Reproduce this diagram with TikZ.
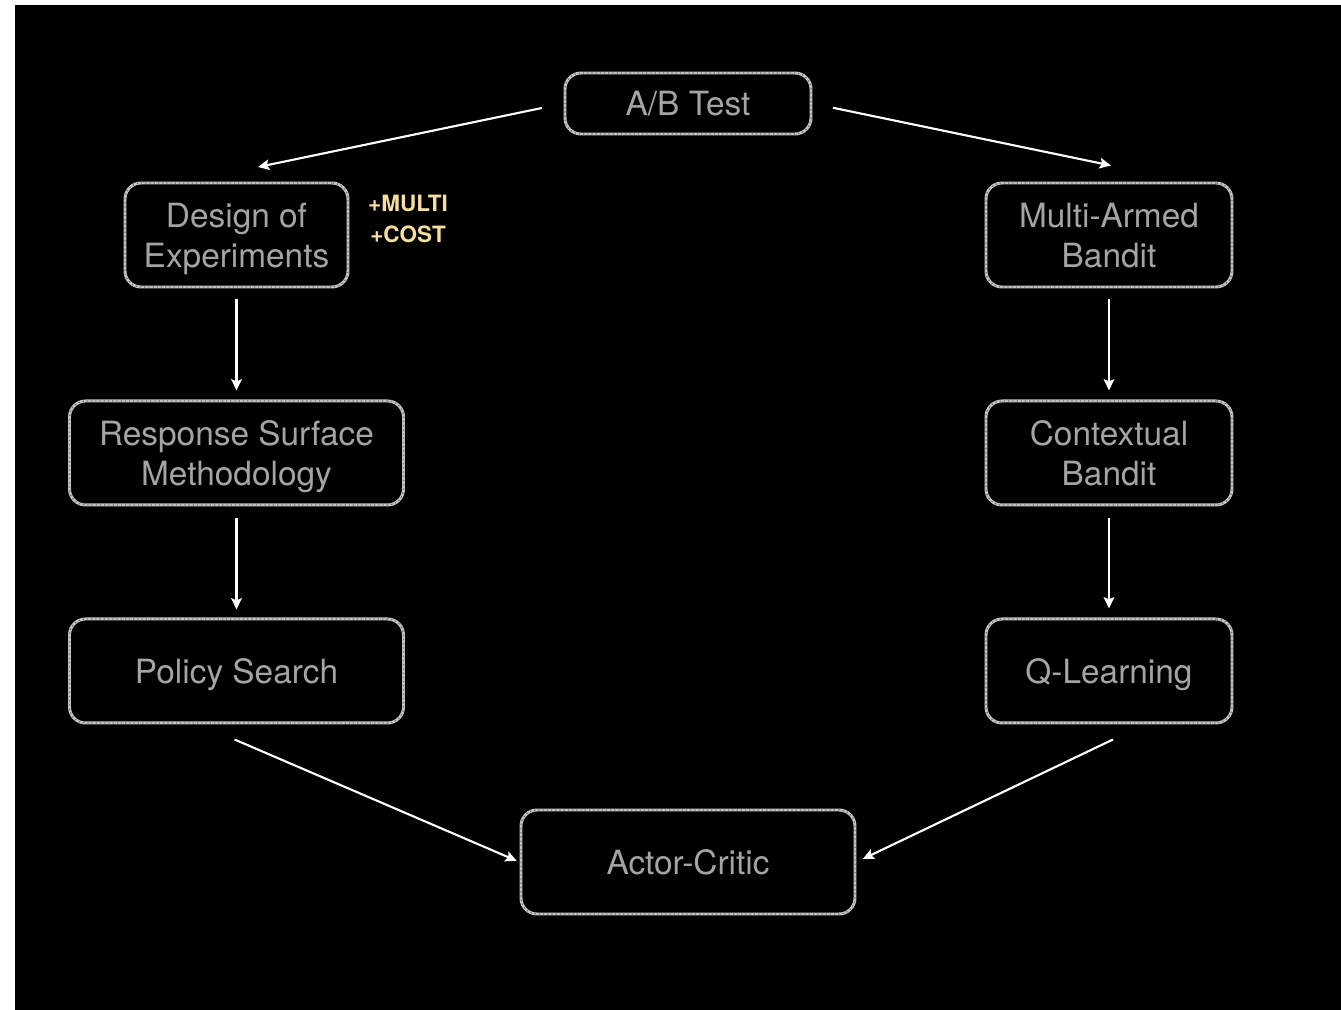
\documentclass[tikz,border=0pt]{standalone}
\usepackage{fontspec}
\setmainfont{TeX Gyre Heros}
\usetikzlibrary{positioning, arrows.meta}

\definecolor{chalk}{HTML}{C4C4C4}
\definecolor{chalkdark}{HTML}{6E6E6E}
\definecolor{greytext}{HTML}{A4A4A4}
\definecolor{notecol}{HTML}{F6DE9C}

\tikzset{
  stage/.style={draw=chalk, line width=0.85pt, fill=black, rounded corners=0.16cm,
    minimum height=1.04cm, inner sep=2pt, text depth=0pt,
    text=greytext, align=center, font=\fontsize{9.5}{11.4}\selectfont,
    postaction={draw=chalkdark, line width=0.35pt, dash pattern=on 0.35pt off 0.85pt}},
  flow/.style={white, line width=0.6pt, -{Stealth[length=3.2pt,width=3pt,inset=0.6pt]}},
  note/.style={text=notecol, align=center, inner sep=0pt,
    font=\fontsize{6.4}{9}\selectfont\bfseries},
}

\begin{document}
\begin{tikzpicture}
\useasboundingbox (0,0) rectangle (13.41,-10.10);
\fill[white] (0,0) rectangle (13.41,-10.10);
\fill[black] (0.15,-0.05) rectangle (13.5,-10.2);

\node[stage, minimum height=0.61cm, minimum width=2.46cm] (ab) at (6.88,-1.035) {A/B Test};

% left column
\node[stage, minimum width=2.23cm] (doe) at (2.365,-2.35) {Design of\\Experiments};
\node[stage, minimum width=3.34cm, below=1.11cm of doe] (rsm) {Response Surface\\Methodology};
\node[stage, minimum width=3.34cm, below=1.11cm of rsm] (ps) {Policy Search};
\node[note, right=0.18cm of doe.east, yshift=0.16cm] (extra) {+MULTI\\+COST};

% right column
\node[stage, minimum width=2.46cm] (mab) at (11.09,-2.35) {Multi-Armed\\Bandit};
\node[stage, minimum width=2.46cm, below=1.11cm of mab] (cb) {Contextual\\Bandit};
\node[stage, minimum width=2.46cm, below=1.11cm of cb] (ql) {Q-Learning};

\node[stage, minimum width=3.34cm] (ac) at (6.88,-8.62) {Actor-Critic};

\draw[flow, shorten <=0.22cm, shorten >=0.22cm] (ab.west) -- ([yshift=0.1cm]doe.north);
\draw[flow, shorten <=0.21cm] (ab.east) -- ([xshift=0.02cm,yshift=0.16cm]mab.north);
\draw[flow, shorten <=0.11cm, shorten >=0.09cm] (doe) -- (rsm);
\draw[flow, shorten <=0.12cm, shorten >=0.08cm] (rsm) -- (ps);
\draw[flow, shorten <=0.11cm, shorten >=0.09cm] (mab) -- (cb);
\draw[flow, shorten <=0.12cm, shorten >=0.09cm] (cb) -- (ql);
\draw[flow, shorten >=0.03cm] ([xshift=-0.02cm,yshift=-0.15cm]ps.south) -- (ac.west);
\draw[flow, shorten >=0.07cm] ([xshift=0.04cm,yshift=-0.15cm]ql.south) -- (ac.east);
\end{tikzpicture}
\end{document}
